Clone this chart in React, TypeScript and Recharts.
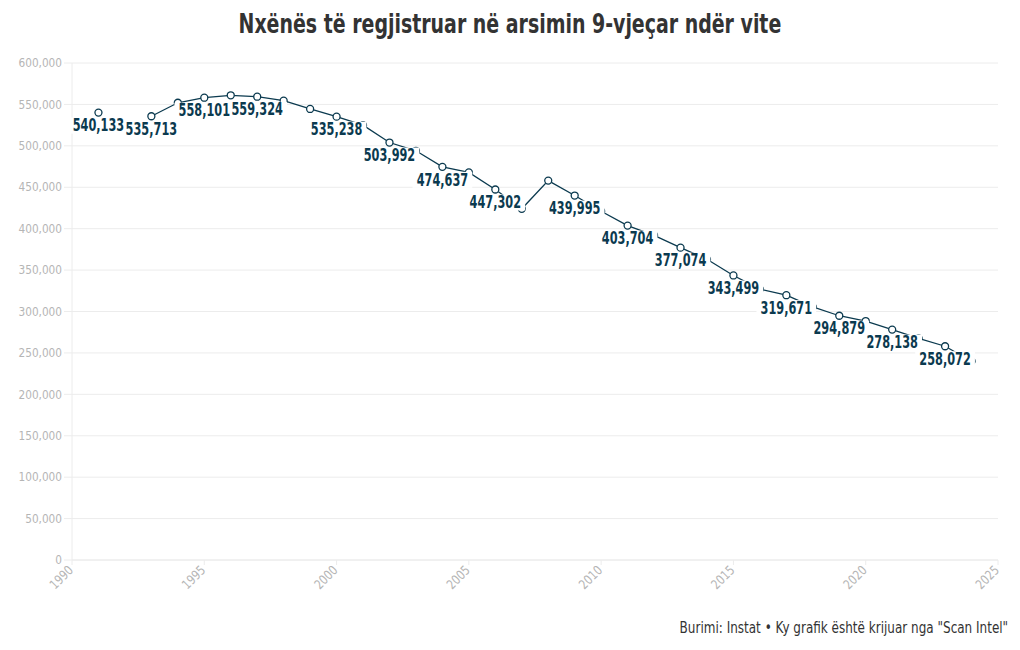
import React from 'react';
import { LineChart, Line, XAxis, YAxis, CartesianGrid, LabelList } from 'recharts';

const LINE = '#0b3a4f';
const GRID = '#ececec';
const AXIS_TEXT = '#b5b5b5';
const TITLE = '#333333';
const FONT = "'DejaVu Sans Condensed', 'DejaVu Sans', sans-serif";

// school years (1992 missing in the source)
const years = [
  1991, 1992, 1993, 1994, 1995, 1996, 1997, 1998, 1999, 2000, 2001, 2002,
  2003, 2004, 2005, 2006, 2007, 2008, 2009, 2010, 2011, 2012, 2013, 2014,
  2015, 2016, 2017, 2018, 2019, 2020, 2021, 2022, 2023, 2024,
];

const students: (number | null)[] = [
  540133, null, 535713, 552000, 558101, 561000, 559324, 554500, 544500, 535238, 525000, 503992,
  494000, 474637, 468000, 447302, 424000, 458000, 439995, 421000, 403704, 392000, 377074, 363000,
  343499, 327000, 319671, 305500, 294879, 288500, 278138, 267600, 258072, 240000,
];

// years that carry a value label on the chart
const labeledYears = [
  1991, 1993, 1995, 1997, 2000, 2002, 2004, 2006, 2009, 2011, 2013, 2015, 2017, 2019, 2021, 2023,
];

const xTicks = [1990, 1995, 2000, 2005, 2010, 2015, 2020, 2025];
const yTicks = [0, 50000, 100000, 150000, 200000, 250000, 300000, 350000, 400000, 450000, 500000, 550000, 600000];

const data = years.map((year, i) => ({ year, students: students[i] }));

const fmt = (v: number) => v.toLocaleString('en-US');

// rough width of a condensed bold label, used for the white backing box
const labelWidth = (s: string) =>
  s.split('').reduce((w, c) => w + (c === ',' ? 4.3 : 7.9), 0);

const showLabel = (index: number, value: any) =>
  value != null && labeledYears.includes(data[index].year);

// white box under each label, drawn in its own layer so labels never clip each other
function LabelBack(props: any) {
  const { x, y, index, value } = props;
  if (!showLabel(index, value)) return null;
  const w = labelWidth(fmt(value)) + 8;
  return <rect x={x - w / 2} y={y + 5} width={w} height={16} fill="#ffffff" />;
}

function ValueLabel(props: any) {
  const { x, y, index, value } = props;
  if (!showLabel(index, value)) return null;
  return (
    <text
      transform={`translate(${x} ${y + 13}) scale(0.74 1)`}
      textAnchor="middle"
      dominantBaseline="central"
      fontFamily={FONT}
      fontSize={17}
      fontWeight={700}
      fill={LINE}
    >
      {fmt(value)}
    </text>
  );
}

function XTick(props: any) {
  const { x, y, payload } = props;
  return (
    <text
      transform={`translate(${x + 2} ${y + 4}) rotate(-45) scale(0.9 1)`}
      textAnchor="end"
      fontFamily={FONT}
      fontSize={13}
      fill={AXIS_TEXT}
    >
      {payload.value}
    </text>
  );
}

function YTick(props: any) {
  const { x, y, payload } = props;
  return (
    <text
      transform={`translate(${x} ${y}) scale(0.9 1)`}
      textAnchor="end"
      dominantBaseline="central"
      fontFamily={FONT}
      fontSize={13}
      fill={AXIS_TEXT}
    >
      {fmt(payload.value)}
    </text>
  );
}

export default function App() {
  return (
    <div style={{ position: 'absolute', left: 0, top: 0, width: 1020, height: 650, background: '#fff' }}>
      <div
        style={{
          position: 'absolute',
          left: 0,
          top: 8,
          width: 1020,
          textAlign: 'center',
        }}
      >
        <span
          style={{
            display: 'inline-block',
            fontFamily: FONT,
            fontWeight: 700,
            fontSize: 27,
            color: TITLE,
            transform: 'scaleX(0.78)',
            whiteSpace: 'nowrap',
          }}
        >
          Nxënës të regjistruar në arsimin 9-vjeçar ndër vite
        </span>
      </div>
      <LineChart
        width={1020}
        height={650}
        data={data}
        margin={{ top: 63, right: 22, bottom: 30, left: 0 }}
      >
        <CartesianGrid stroke={GRID} vertical={false} />
        <XAxis
          dataKey="year"
          type="number"
          domain={[1990, 2025]}
          ticks={xTicks}
          height={60}
          stroke={GRID}
          tickSize={5}
          tick={<XTick />}
          interval={0}
        />
        <YAxis
          type="number"
          domain={[0, 600000]}
          ticks={yTicks}
          width={72}
          stroke={GRID}
          tickSize={8}
          tickMargin={2}
          tick={<YTick />}
          interval={0}
        />
        <Line
          dataKey="students"
          type="linear"
          stroke={LINE}
          strokeWidth={1.3}
          connectNulls={false}
          dot={{ r: 3.5, fill: '#ffffff', stroke: LINE, strokeWidth: 1.3 }}
          isAnimationActive={false}
        >
          <LabelList dataKey="students" content={<LabelBack />} />
          <LabelList dataKey="students" content={<ValueLabel />} />
        </Line>
      </LineChart>
      <div
        style={{
          position: 'absolute',
          right: 12,
          top: 619,
          fontFamily: FONT,
          fontSize: 15,
          color: TITLE,
          transform: 'scaleX(0.89)',
          transformOrigin: 'right center',
          whiteSpace: 'nowrap',
        }}
      >
        Burimi: Instat • Ky grafik është krijuar nga "Scan Intel"
      </div>
    </div>
  );
}
